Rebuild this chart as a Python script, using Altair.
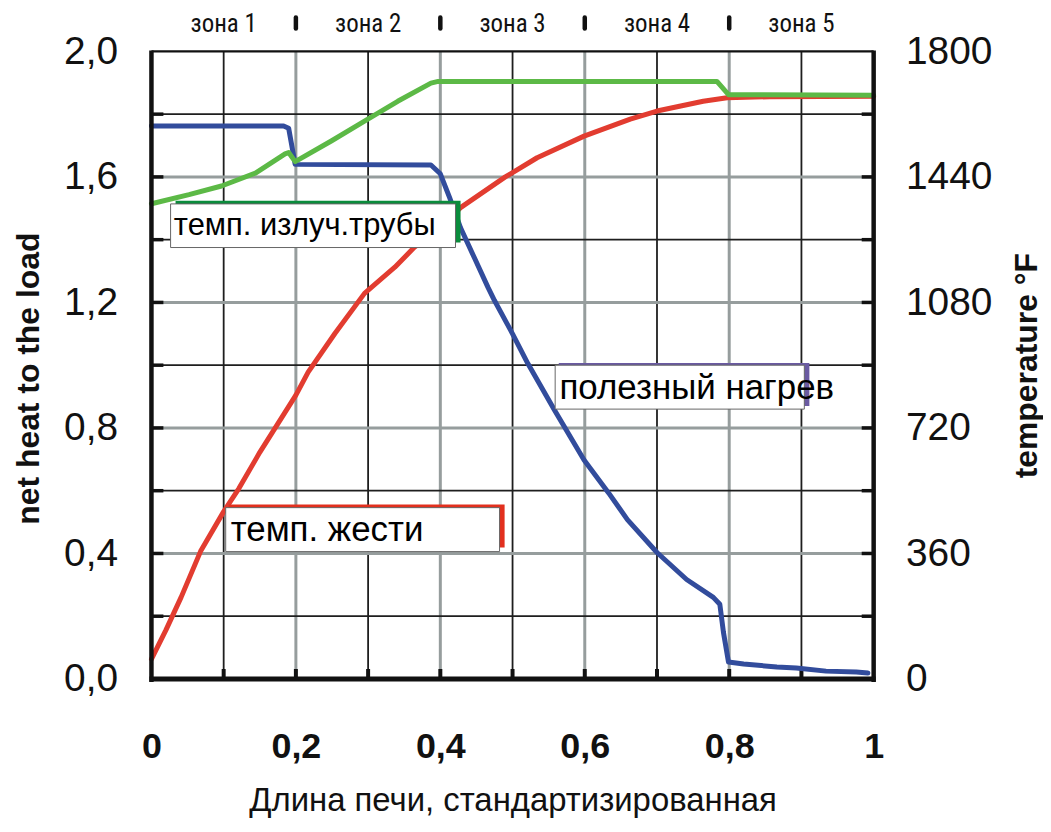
import altair as alt
import pandas as pd

# ---- data ----
x_heat = [0, 0.183, 0.19, 0.199, 0.387, 0.4, 0.413, 0.428, 0.447, 0.466, 0.475, 0.5, 0.521,
          0.558, 0.599, 0.633, 0.659, 0.70, 0.741, 0.778, 0.787, 0.792, 0.799, 0.82, 0.866,
          0.893, 0.934, 0.976, 0.992]
heat = [1.762, 1.762, 1.755, 1.64, 1.638, 1.61, 1.533, 1.438, 1.343, 1.248, 1.206, 1.10, 1.006,
        0.857, 0.698, 0.593, 0.508, 0.403, 0.317, 0.26, 0.238, 0.149, 0.054, 0.048, 0.038,
        0.035, 0.025, 0.022, 0.019]

x_tin = [0, 0.02, 0.041, 0.068, 0.1, 0.121, 0.15, 0.2, 0.217, 0.254, 0.295, 0.337, 0.364, 0.4,
         0.428, 0.49, 0.534, 0.599, 0.663, 0.70, 0.764, 0.797, 0.856, 1.0]
temp_tin = [57, 140, 234, 366, 480, 546, 650, 814, 880, 991, 1106, 1181, 1238, 1295,
            1352, 1440, 1495, 1557, 1606, 1629, 1657, 1667, 1670, 1671]

x_tube = [0, 0.052, 0.097, 0.144, 0.185, 0.19, 0.199, 0.249, 0.295, 0.341, 0.387, 0.397,
          0.783, 0.799, 1.0]
temp_tube = [1363, 1389, 1414, 1451, 1506, 1510, 1484, 1543, 1600, 1657, 1709, 1714,
             1714, 1676, 1674]

zones = ["зона 1", "зона 2", "зона 3", "зона 4", "зона 5"]
zone_centers = [0.1, 0.3, 0.5, 0.7, 0.9]
zone_bounds = [0.2, 0.4, 0.6, 0.8]

x_ticks = [0, 0.2, 0.4, 0.6, 0.8, 1.0]
y_ticks = [0, 0.4, 0.8, 1.2, 1.6, 2.0]
t_ticks = [0, 360, 720, 1080, 1440, 1800]

v_grid_dark = [0.1, 0.3, 0.5, 0.7, 0.9]
v_grid_gray = [0.2, 0.4, 0.6, 0.8]
h_grid_dark = [0.2, 0.6, 1.0, 1.4, 1.8]
h_grid_gray = [0.4, 0.8, 1.2, 1.6]

box_labels = ["темп. излуч.трубы", "темп. жести", "полезный нагрев"]
box_colors = ["#0a8c3c", "#e2301e", "#6a5aa2"]
box_font = [31, 35, 35]
box_x = [0.0265, 0.1028, 0.559]
box_x2 = [0.421, 0.482, 0.904]
box_y = [1.514, 0.546, 1.0]
box_y2 = [1.375, 0.406, 0.860]
frame_x = [0.0334, 0.107, 0.564]
frame_x2 = [0.428, 0.489, 0.911]
frame_y = [1.524, 0.556, 1.007]
frame_y2 = [1.391, 0.419, 0.870]
text_x = [0.031, 0.1097, 0.565]
text_y = [1.444, 0.474, 0.928]

FONT = "Liberation Sans"
NARROW = "Liberation Sans Narrow, Arial Narrow, Roboto Condensed, Roboto"

xs = alt.Scale(domain=[0, 1], nice=False, zero=False)
ys = alt.Scale(domain=[0, 2.0], nice=False)
ts = alt.Scale(domain=[0, 1800], nice=False)

x_label_expr = ("datum.value == 0 ? '0' : datum.value == 1 ? '1' : "
                "replace(format(datum.value, '.1f'), '.', ',')")

x_axis = alt.Axis(
    values=x_ticks, labelExpr=x_label_expr, labelFontSize=36, labelFontWeight="bold",
    labelFont=FONT, labelColor="#111", labelPadding=51, labelFlush=False, ticks=False,
    domain=False, grid=False, title="Длина печи, стандартизированная", titleFont=FONT,
    titleFontSize=33, titleFontWeight="normal", titleColor="#111", titlePadding=20)
y_axis = alt.Axis(
    values=y_ticks, labelExpr="replace(format(datum.value, '.1f'), '.', ',')",
    labelFontSize=39, labelFont=FONT, labelColor="#111", labelPadding=34,
    labelFlush=False, ticks=False, domain=False, grid=False, title="net heat to the load",
    titleFont=FONT, titleFontSize=32, titleFontWeight="bold", titleColor="#111",
    titlePadding=18, titleY=328)
t_axis = alt.Axis(
    orient="right", values=t_ticks, format="d", labelFontSize=39, labelFont=FONT,
    labelColor="#111", labelPadding=32, labelFlush=False, ticks=False, domain=False,
    grid=False, title="temperature °F", titleFont=FONT, titleFontSize=32,
    titleFontWeight="bold", titleColor="#111", titleAngle=270, titlePadding=52)

heat_df = pd.DataFrame({"x": x_heat, "v": heat})
tin_df = pd.DataFrame({"x": x_tin, "t": temp_tin})
tube_df = pd.DataFrame({"x": x_tube, "t": temp_tube})


def X(field):
    return alt.X(field, scale=xs, axis=x_axis)


def YL(field):
    return alt.Y(field, scale=ys, axis=y_axis)


def YO(field):
    return alt.Y(field, scale=ys, axis=None)


# --- left-unit group: grid, ticks, blue line ---
vd = alt.Chart(pd.DataFrame({"x": v_grid_dark})).mark_rule(
    color="#1e1e1e", strokeWidth=1.8).encode(x=X("x:Q"))
vg = alt.Chart(pd.DataFrame({"x": v_grid_gray})).mark_rule(
    color="#969d9d", strokeWidth=3).encode(x=X("x:Q"))
hd = alt.Chart(pd.DataFrame({"v": h_grid_dark})).mark_rule(
    color="#1e1e1e", strokeWidth=1.8).encode(y=YL("v:Q"))
hg = alt.Chart(pd.DataFrame({"v": h_grid_gray})).mark_rule(
    color="#969d9d", strokeWidth=3).encode(y=YL("v:Q"))
lt = alt.Chart(pd.DataFrame({"v": h_grid_dark + h_grid_gray})).mark_rule(
    color="#111", strokeWidth=3.5).encode(y=YL("v:Q"), x=alt.value(0), x2=alt.value(12))
rt = alt.Chart(pd.DataFrame({"v": h_grid_dark + h_grid_gray})).mark_rule(
    color="#111", strokeWidth=3.5).encode(y=YL("v:Q"), x=alt.value(713), x2=alt.value(725))
bt = alt.Chart(pd.DataFrame({"x": v_grid_dark + v_grid_gray})).mark_rule(
    color="#111", strokeWidth=4).encode(x=X("x:Q"), y=alt.value(630), y2=alt.value(620))
blue = alt.Chart(heat_df).mark_line(
    color="#324c9c", strokeWidth=5, strokeJoin="round", strokeCap="round"
).encode(x=X("x:Q"), y=YL("v:Q"))

left = alt.layer(blue.mark_line(opacity=0), vd, vg, hd, hg, lt, rt, bt, blue)

# --- right-unit group: temperatures ---
tube_line = alt.Chart(tube_df).mark_line(
    color="#5cb946", strokeWidth=5, strokeJoin="round", strokeCap="round").encode(
    x=X("x:Q"), y=alt.Y("t:Q", scale=ts, axis=t_axis))
tin_line = alt.Chart(tin_df).mark_line(
    color="#e23c30", strokeWidth=5, strokeJoin="round", strokeCap="round").encode(
    x=X("x:Q"), y=alt.Y("t:Q", scale=ts, axis=t_axis))
right = alt.layer(tin_line, tube_line)

# --- overlay group: frame, label boxes, zone header ---
fl = alt.Chart(pd.DataFrame({"x": [0]})).mark_rule(color="#111", strokeWidth=4.5).encode(
    x=X("x:Q"), y=alt.value(-1), y2=alt.value(633))
fr = alt.Chart(pd.DataFrame({"x": [1]})).mark_rule(color="#111", strokeWidth=4.5).encode(
    x=X("x:Q"), y=alt.value(-1), y2=alt.value(633))
fb = alt.Chart(pd.DataFrame({"v": [0]})).mark_rule(color="#111", strokeWidth=5).encode(
    y=YO("v:Q"), x=alt.value(-2), x2=alt.value(727))
ft = alt.Chart(pd.DataFrame({"v": [2.0]})).mark_rule(color="#111", strokeWidth=2.2).encode(
    y=YO("v:Q"), x=alt.value(0), x2=alt.value(725))

box_df = pd.DataFrame({
    "label": box_labels, "color": box_colors, "fs": box_font,
    "bx": box_x, "bx2": box_x2, "by": box_y, "by2": box_y2,
    "fx": frame_x, "fx2": frame_x2, "fy": frame_y, "fy2": frame_y2,
    "tx": text_x, "ty": text_y,
})
frames = alt.Chart(box_df).mark_rect().encode(
    x=X("fx:Q"), x2="fx2:Q", y=YO("fy:Q"), y2="fy2:Q",
    color=alt.Color("color:N", scale=None, legend=None))
boxes = alt.Chart(box_df).mark_rect(fill="white", stroke="#666", strokeWidth=1).encode(
    x=X("bx:Q"), x2="bx2:Q", y=YO("by:Q"), y2="by2:Q")
btext = alt.Chart(box_df).mark_text(
    align="left", baseline="middle", font=FONT, color="#000").encode(
    x=X("tx:Q"), y=YO("ty:Q"), text="label:N",
    size=alt.Size("fs:Q", scale=None, legend=None))

zone_df = pd.DataFrame({"x": zone_centers, "label": zones})
ztext = alt.Chart(zone_df).mark_text(
    align="center", baseline="middle", font=NARROW, fontSize=25,
    color="#111").encode(x=X("x:Q"), y=alt.value(-27), text="label:N")
zsep = alt.Chart(pd.DataFrame({"x": zone_bounds})).mark_rule(
    color="#111", strokeWidth=4.5, strokeCap="round").encode(
    x=X("x:Q"), y=alt.value(-34), y2=alt.value(-23))

over = alt.layer(frames, boxes, btext, fl, fr, fb, ft, ztext, zsep)

chart = alt.layer(left, right, over).resolve_scale(y="independent").properties(
    width=725, height=630,
    padding={"left": 144, "top": 42, "right": 170, "bottom": 142},
    autosize=alt.AutoSizeParams(type="none"),
).configure_view(stroke=None)

chart.save("out.html", embed_options={"renderer": "svg", "actions": False})
